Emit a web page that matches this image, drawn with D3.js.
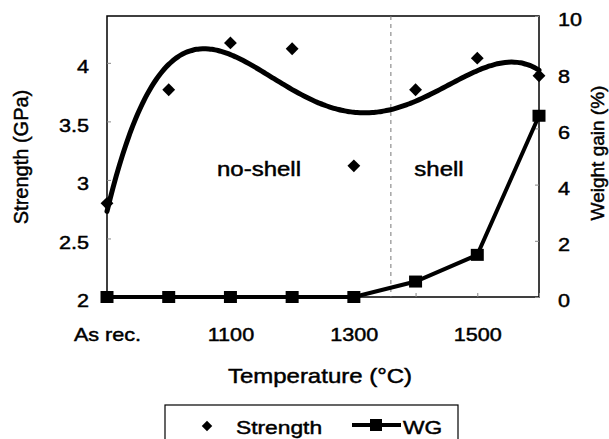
<!DOCTYPE html>
<html><head><meta charset="utf-8">
<script src="https://cdn.jsdelivr.net/npm/d3@7"></script>
<style>body{margin:0;background:#fff} text{font-family:"Liberation Sans",Arial,sans-serif;fill:#000;stroke:#000;stroke-width:0.45px}</style>
</head><body><svg id="c" width="609" height="439"></svg>
<script>
const categories = ["As rec.","1000","1100","1200","1300","1400","1500","1600"];
const strength = [2.80,3.77,4.17,4.12,3.12,3.77,4.04,3.89];
const weightGain = [0,0,0,0,0,0.55,1.5,6.45];
const xTickLabels = ["As rec.","1100","1300","1500"];
const leftTicks = [2,2.5,3,3.5,4];
const rightTicks = [0,2,4,6,8,10];
const shellBoundaryIndex = 4.6;
const trendDegree = 4;

const svg = d3.select("#c");
const L=107,R=539,T=16,B=297, SX=1.2;
const idx = categories.map((c,i)=>i);
const x = d3.scaleLinear().domain([0,categories.length-1]).range([L,R]);
const yL = d3.scaleLinear().domain([2,4.4]).range([B,T]);
const yR = d3.scaleLinear().domain([0,10]).range([B,T]);

function polyfit(xs, ys, deg){
  const n=deg+1; const A=[];
  for(let r=0;r<n;r++){A.push(new Array(n+1).fill(0));}
  xs.forEach((xv,k)=>{for(let r=0;r<n;r++){for(let c=0;c<n;c++)A[r][c]+=Math.pow(xv,r+c);A[r][n]+=ys[k]*Math.pow(xv,r);}});
  for(let i=0;i<n;i++){let p=i;for(let j=i+1;j<n;j++)if(Math.abs(A[j][i])>Math.abs(A[p][i]))p=j;[A[i],A[p]]=[A[p],A[i]];
    for(let j=0;j<n;j++){if(j===i)continue;const f=A[j][i]/A[i][i];for(let c=i;c<=n;c++)A[j][c]-=f*A[i][c];}}
  return A.map((row,i)=>row[n]/row[i]);
}
// frame
svg.append("rect").attr("x",L).attr("y",T).attr("width",R-L).attr("height",B-T).attr("fill","none").attr("stroke","#000").attr("stroke-width",1.5);
svg.append("line").attr("x1",x(shellBoundaryIndex)).attr("x2",x(shellBoundaryIndex)).attr("y1",T).attr("y2",B)
  .attr("stroke","#777").attr("stroke-width",1).attr("stroke-dasharray","4,4");

function stretchText(sel){
  sel.each(function(){const t=d3.select(this);const xx=+t.attr("x")||0;t.attr("x",0).attr("transform",`translate(${xx},0) scale(${SX},1)`);});
}
const gl=svg.append("g").attr("transform",`translate(${L},0)`).call(d3.axisLeft(yL).tickValues(leftTicks).tickSizeInner(-4).tickSizeOuter(0).tickPadding(18).tickFormat(d3.format("")));
gl.select(".domain").remove(); gl.selectAll("line").attr("stroke","#888");
gl.selectAll("text").attr("font-size",18).attr("font-family",null).attr("dy","0.55em");
stretchText(gl.selectAll("text"));
const gr=svg.append("g").attr("transform",`translate(${R},0)`).call(d3.axisRight(yR).tickValues(rightTicks).tickSizeInner(-4).tickSizeOuter(0).tickPadding(19));
gr.select(".domain").remove(); gr.selectAll("line").attr("stroke","#888");
gr.selectAll("text").attr("font-size",18).attr("font-family",null).attr("dy","0.55em");
stretchText(gr.selectAll("text"));
const gx=svg.append("g").attr("transform",`translate(0,${B})`).call(d3.axisBottom(x).tickValues(idx).tickSizeInner(-4).tickSizeOuter(0).tickPadding(32)
  .tickFormat(i=>xTickLabels.includes(categories[i])?categories[i]:""));
gx.select(".domain").remove(); gx.selectAll("line").attr("stroke","#888");
gx.selectAll("text").attr("font-size",18).attr("font-family",null).attr("dy","0");
gx.selectAll(".tick text").each(function(){const t=d3.select(this);t.attr("y",null).attr("transform",`translate(0,44) scale(${SX},1)`);});

// trend line (least-squares polynomial of the strength values)
const co=polyfit(idx,strength,trendDegree);
const pts=d3.range(0,categories.length-1+1e-6,0.05).map(t=>[t,co.reduce((s,c,i)=>s+c*Math.pow(t,i),0)]);
svg.append("path").attr("d",d3.line().x(d=>x(d[0])).y(d=>yL(d[1])).curve(d3.curveCatmullRom)(pts))
  .attr("fill","none").attr("stroke","#000").attr("stroke-width",5).attr("stroke-linecap","round");

// WG
svg.append("path").attr("d",d3.line().x((d,i)=>x(i)).y(d=>yR(d))(weightGain)).attr("fill","none").attr("stroke","#000").attr("stroke-width",4);
svg.selectAll(".sq").data(weightGain).join("rect").attr("x",(d,i)=>x(i)-6.5).attr("y",d=>yR(d)-6).attr("width",13).attr("height",12).attr("fill","#000");
const diamond=d3.symbol().type(d3.symbolDiamond2).size(105);
svg.selectAll(".dm").data(strength).join("path").attr("d",diamond).attr("transform",(d,i)=>`translate(${x(i)},${yL(d)})`).attr("fill","#000");

function label(str,xx,yy,size,anchor,rot){
  const g=svg.append("g").attr("transform",`translate(${xx},${yy})`+(rot?` rotate(${rot})`:` scale(${SX},1)`));
  g.append("text").attr("text-anchor",anchor).attr("font-size",size).text(str);
}
label("no-shell",259,176,20,"middle");
label("shell",439,176,20,"middle");
label("Temperature (°C)",320,383,20,"middle");
label("Strength (GPa)",28,157,20,"middle",-90);
label("Weight gain (%)",604,153,19,"middle",-90);
// legend
svg.append("rect").attr("x",165).attr("y",405).attr("width",293).attr("height",50).attr("fill","none").attr("stroke","#000").attr("stroke-width",1.2);
svg.append("path").attr("d",d3.symbol().type(d3.symbolDiamond2).size(70)).attr("transform","translate(207,426)").attr("fill","#000");
label("Strength",236,434,19,"start");
svg.append("line").attr("x1",352).attr("x2",401).attr("y1",425).attr("y2",425).attr("stroke","#000").attr("stroke-width",4);
svg.append("rect").attr("x",370).attr("y",419).attr("width",12).attr("height",12).attr("fill","#000");
label("WG",403,434,19,"start");
</script></body></html>
